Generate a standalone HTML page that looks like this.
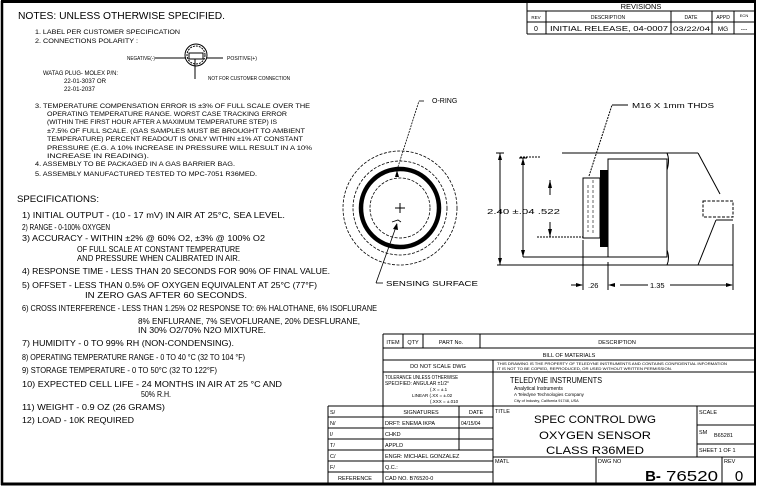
<!DOCTYPE html>
<html><head><meta charset="utf-8"><style>
html,body{margin:0;padding:0;background:#fff;}
svg{display:block;font-family:"Liberation Sans",sans-serif;}
text{fill:#000;}
</style></head><body>
<svg width="759" height="486" viewBox="0 0 759 486" xmlns="http://www.w3.org/2000/svg">
<rect x="0" y="0" width="759" height="486" fill="#fff"/>
<!-- border -->
<g stroke="#000" fill="none">
<line x1="1" y1="1.5" x2="756" y2="1.5" stroke-width="3"/>
<line x1="2" y1="1" x2="2" y2="485" stroke-width="2.5"/>
<line x1="1" y1="484" x2="756" y2="484" stroke-width="3"/>
<line x1="755" y1="1" x2="755" y2="485" stroke-width="2"/>
</g>

<!-- NOTES -->
<text x="18" y="19" font-size="10" textLength="207" lengthAdjust="spacingAndGlyphs">NOTES: UNLESS OTHERWISE SPECIFIED.</text>
<g font-size="6">
<text x="35" y="34" textLength="145" lengthAdjust="spacingAndGlyphs">1. LABEL PER CUSTOMER SPECIFICATION</text>
<text x="35" y="43" textLength="103" lengthAdjust="spacingAndGlyphs">2. CONNECTIONS POLARITY :</text>
<text x="127" y="60" font-size="5" textLength="28" lengthAdjust="spacingAndGlyphs">NEGATIVE(-)</text>
<text x="227" y="60" font-size="5" textLength="30" lengthAdjust="spacingAndGlyphs">POSITIVE(+)</text>
<text x="208" y="80" font-size="5" textLength="82" lengthAdjust="spacingAndGlyphs">NOT FOR CUSTOMER CONNECTION</text>
<text x="43" y="75" textLength="75" lengthAdjust="spacingAndGlyphs">WATAG PLUG- MOLEX P/N:</text>
<text x="64" y="83" textLength="42" lengthAdjust="spacingAndGlyphs">22-01-3037 OR</text>
<text x="64" y="91" textLength="31" lengthAdjust="spacingAndGlyphs">22-01-2037</text>
<text x="35" y="108" textLength="275" lengthAdjust="spacingAndGlyphs">3. TEMPERATURE COMPENSATION ERROR IS ±3% OF FULL SCALE OVER THE</text>
<text x="47" y="116" textLength="240" lengthAdjust="spacingAndGlyphs">OPERATING TEMPERATURE RANGE. WORST CASE TRACKING ERROR</text>
<text x="47" y="124" textLength="230" lengthAdjust="spacingAndGlyphs">(WITHIN THE FIRST HOUR AFTER A MAXIMUM TEMPERATURE STEP) IS</text>
<text x="47" y="133" textLength="258" lengthAdjust="spacingAndGlyphs">±7.5% OF FULL SCALE. (GAS SAMPLES MUST BE BROUGHT TO AMBIENT</text>
<text x="47" y="141" textLength="256" lengthAdjust="spacingAndGlyphs">TEMPERATURE) PERCENT READOUT IS ONLY WITHIN ±1% AT CONSTANT</text>
<text x="47" y="150" textLength="265" lengthAdjust="spacingAndGlyphs">PRESSURE (E.G. A 10% INCREASE IN PRESSURE WILL RESULT IN A 10%</text>
<text x="47" y="158" textLength="102" lengthAdjust="spacingAndGlyphs">INCREASE IN READING).</text>
<text x="35" y="166" textLength="200" lengthAdjust="spacingAndGlyphs">4. ASSEMBLY TO BE PACKAGED IN A GAS BARRIER BAG.</text>
<text x="35" y="176" textLength="222" lengthAdjust="spacingAndGlyphs">5. ASSEMBLY MANUFACTURED TESTED TO MPC-7051 R36MED.</text>
</g>
<!-- polarity symbol -->
<g stroke="#000" fill="none" stroke-width="1">
<line x1="155" y1="58" x2="186" y2="58"/>
<line x1="207" y1="58" x2="223" y2="58"/>
<circle cx="196" cy="55" r="11"/>
<circle cx="196" cy="55" r="9" stroke-dasharray="2 1"/>
<rect x="189" y="53" width="14" height="6"/>
<line x1="195" y1="59" x2="195" y2="79"/>
</g>

<!-- SPECIFICATIONS -->
<text x="17" y="202" font-size="9.5" textLength="82" lengthAdjust="spacingAndGlyphs">SPECIFICATIONS:</text>
<g font-size="8">
<text x="22" y="218" textLength="263" lengthAdjust="spacingAndGlyphs">1) INITIAL OUTPUT - (10 - 17 mV) IN AIR AT 25°C, SEA LEVEL.</text>
<text x="22" y="230" textLength="88" lengthAdjust="spacingAndGlyphs">2) RANGE - 0-100% OXYGEN</text>
<text x="22" y="241" textLength="243" lengthAdjust="spacingAndGlyphs">3) ACCURACY - WITHIN ±2% @ 60% O2, ±3% @ 100% O2</text>
<text x="77" y="252" textLength="163" lengthAdjust="spacingAndGlyphs">OF FULL SCALE AT CONSTANT TEMPERATURE</text>
<text x="77" y="261" textLength="163" lengthAdjust="spacingAndGlyphs">AND PRESSURE WHEN CALIBRATED IN AIR.</text>
<text x="22" y="274" textLength="308" lengthAdjust="spacingAndGlyphs">4) RESPONSE TIME - LESS THAN 20 SECONDS FOR 90% OF FINAL VALUE.</text>
<text x="22" y="288" textLength="295" lengthAdjust="spacingAndGlyphs">5) OFFSET - LESS THAN 0.5% OF OXYGEN EQUIVALENT AT 25°C (77°F)</text>
<text x="85" y="298" textLength="162" lengthAdjust="spacingAndGlyphs">IN ZERO GAS AFTER 60 SECONDS.</text>
<text x="22" y="311" textLength="355" lengthAdjust="spacingAndGlyphs">6) CROSS INTERFERENCE - LESS THAN 1.25% O2 RESPONSE TO: 6% HALOTHANE, 6% ISOFLURANE</text>
<text x="138" y="324" textLength="222" lengthAdjust="spacingAndGlyphs">8% ENFLURANE, 7% SEVOFLURANE, 20% DESFLURANE,</text>
<text x="138" y="333" textLength="128" lengthAdjust="spacingAndGlyphs">IN 30% O2/70% N2O MIXTURE.</text>
<text x="22" y="346" textLength="212" lengthAdjust="spacingAndGlyphs">7) HUMIDITY - 0 TO 99% RH (NON-CONDENSING).</text>
<text x="22" y="360" textLength="223" lengthAdjust="spacingAndGlyphs">8) OPERATING TEMPERATURE RANGE - 0 TO 40 °C (32 TO 104 °F)</text>
<text x="22" y="373" textLength="195" lengthAdjust="spacingAndGlyphs">9) STORAGE TEMPERATURE - 0 TO 50°C (32 TO 122°F)</text>
<text x="22" y="387" textLength="260" lengthAdjust="spacingAndGlyphs">10) EXPECTED CELL LIFE - 24 MONTHS IN AIR AT 25 °C AND</text>
<text x="141" y="397" textLength="30" lengthAdjust="spacingAndGlyphs">50% R.H.</text>
<text x="22" y="410" textLength="143" lengthAdjust="spacingAndGlyphs">11) WEIGHT - 0.9 OZ (26 GRAMS)</text>
<text x="22" y="423" textLength="112" lengthAdjust="spacingAndGlyphs">12) LOAD - 10K REQUIRED</text>
</g>

<!-- REVISIONS table -->
<g stroke="#000" fill="none" stroke-width="1">
<line x1="527" y1="1" x2="527" y2="34"/>
<line x1="527" y1="11" x2="755" y2="11"/>
<line x1="527" y1="22" x2="755" y2="22"/>
<line x1="527" y1="34" x2="755" y2="34"/>
<line x1="546" y1="11" x2="546" y2="34"/>
<line x1="671" y1="11" x2="671" y2="34"/>
<line x1="712" y1="11" x2="712" y2="34"/>
<line x1="734" y1="11" x2="734" y2="34"/>
</g>
<g font-size="6">
<text x="641" y="9" font-size="7.5" text-anchor="middle">REVISIONS</text>
<text x="536" y="19" font-size="4.5" text-anchor="middle">REV</text>
<text x="608" y="19" font-size="5" text-anchor="middle">DESCRIPTION</text>
<text x="691" y="19" font-size="5" text-anchor="middle">DATE</text>
<text x="723" y="19" font-size="5" text-anchor="middle">APPD</text>
<text x="744" y="17" font-size="4" text-anchor="middle">ECN</text>
<text x="536" y="31" font-size="7" text-anchor="middle">0</text>
<text x="550" y="31" font-size="7" textLength="118" lengthAdjust="spacingAndGlyphs">INITIAL RELEASE, 04-0007</text>
<text x="673" y="31" font-size="6.5" textLength="37" lengthAdjust="spacingAndGlyphs">03/22/04</text>
<text x="723" y="31" font-size="6.5" text-anchor="middle">MG</text>
<text x="744" y="31" font-size="6.5" text-anchor="middle">---</text>
</g>

<!-- Front view circle -->
<g stroke="#000" fill="none">
<circle cx="400" cy="208" r="57" stroke-dasharray="3 1.5" stroke-width="0.8"/>
<circle cx="400" cy="208" r="47" stroke-dasharray="3 1.5" stroke-width="0.8"/>
<circle cx="400" cy="208" r="39" stroke-width="4.5"/>
<circle cx="400" cy="208" r="30" stroke-dasharray="3 1.5" stroke-width="0.8"/>
<line x1="395" y1="208" x2="405" y2="208" stroke-width="1"/>
<line x1="400" y1="203" x2="400" y2="213" stroke-width="1"/>
<path d="M392 222 l6 -2 l3 2" stroke-width="0.8"/>
<line x1="397" y1="170" x2="419" y2="101" stroke-width="0.8" stroke-dasharray="2 1"/>
<line x1="419" y1="101" x2="424" y2="101" stroke-width="0.8"/>
<line x1="397" y1="224" x2="376" y2="283" stroke-width="0.8"/>
<line x1="376" y1="283" x2="383" y2="283" stroke-width="0.8"/>
</g>
<polygon points="397,170 395,177 399,177" fill="#000"/>
<polygon points="397,223 393,229 398,230" fill="#000"/>
<text x="432" y="103" font-size="7">O-RING</text>
<text x="386" y="286" font-size="7" textLength="92" lengthAdjust="spacingAndGlyphs">SENSING SURFACE</text>

<!-- Side view -->
<g stroke="#000" fill="none" stroke-width="1">
<line x1="562" y1="153" x2="673" y2="153"/>
<line x1="497" y1="265" x2="733" y2="265"/>
<line x1="520" y1="157" x2="540" y2="157" stroke-dasharray="2 1"/>
<line x1="537" y1="237" x2="583" y2="237" stroke-dasharray="2 1"/>
<line x1="500" y1="153" x2="500" y2="265"/>
<line x1="496" y1="153" x2="504" y2="153"/>
<line x1="523" y1="158" x2="523" y2="257"/>
<line x1="519" y1="158" x2="527" y2="158"/>
<line x1="523" y1="257" x2="608" y2="257"/>
<line x1="550" y1="180" x2="550" y2="195"/>
<line x1="550" y1="222" x2="550" y2="237"/>
<rect x="583" y="178" width="17" height="60"/>
<line x1="588" y1="185" x2="588" y2="232" stroke-dasharray="3 2" stroke-width="0.6"/>
<line x1="593" y1="180" x2="593" y2="235" stroke-dasharray="3 2" stroke-width="0.6"/>
<rect x="608" y="159" width="59" height="98"/>
<path d="M667 153 Q670 160 667 170 L667 250 Q670 258 667 265"/>
<line x1="673" y1="153" x2="698" y2="153"/>
<line x1="698" y1="153" x2="720" y2="194"/>
<line x1="698" y1="265" x2="716" y2="220"/>
<line x1="716" y1="220" x2="733" y2="220"/>
<rect x="703" y="201" width="30" height="16" stroke-dasharray="3 1.5"/>
<line x1="733" y1="224" x2="733" y2="290"/>
<line x1="583" y1="240" x2="583" y2="290"/>
<line x1="608" y1="262" x2="608" y2="290"/>
<line x1="571" y1="285" x2="582" y2="285"/>
<line x1="620" y1="285" x2="648" y2="285"/>
<line x1="670" y1="285" x2="732" y2="285"/>
<line x1="589" y1="176" x2="612" y2="105" stroke-dasharray="2 1"/>
<line x1="612" y1="105" x2="628" y2="105"/>
</g>
<rect x="600" y="170" width="8" height="77" fill="#000"/>
<polygon points="500,153 498,160 502,160" fill="#000"/>
<polygon points="500,265 498,258 502,258" fill="#000"/>
<polygon points="523,158 521,165 525,165" fill="#000"/>
<polygon points="523,257 521,250 525,250" fill="#000"/>
<polygon points="550,180 548,188 552,188" fill="#000"/>
<polygon points="550,237 548,229 552,229" fill="#000"/>
<polygon points="583,285 576,283 576,287" fill="#000"/>
<polygon points="608,285 615,283 615,287" fill="#000"/>
<polygon points="733,285 726,283 726,287" fill="#000"/>
<text x="487" y="214" font-size="7.5" textLength="73" lengthAdjust="spacingAndGlyphs">2.40 ±.04 .522</text>
<text x="588" y="288" font-size="7.5">.26</text>
<text x="650" y="288" font-size="7.5">1.35</text>
<text x="632" y="108" font-size="7" textLength="82" lengthAdjust="spacingAndGlyphs">M16 X 1mm THDS</text>

<!-- Title block -->
<g stroke="#000" fill="none" stroke-width="1">
<line x1="383" y1="334" x2="755" y2="334"/>
<line x1="383" y1="334" x2="383" y2="484"/>
<line x1="383" y1="348" x2="755" y2="348"/>
<line x1="383" y1="360" x2="755" y2="360"/>
<line x1="383" y1="372" x2="755" y2="372"/>
<line x1="403" y1="334" x2="403" y2="348"/>
<line x1="423" y1="334" x2="423" y2="348"/>
<line x1="480" y1="334" x2="480" y2="348"/>
<line x1="493" y1="360" x2="493" y2="484"/>
<line x1="328" y1="406" x2="755" y2="406"/>
<line x1="328" y1="406" x2="328" y2="484"/>
<line x1="328" y1="417" x2="493" y2="417"/>
<line x1="328" y1="428" x2="493" y2="428"/>
<line x1="328" y1="439" x2="493" y2="439"/>
<line x1="328" y1="450" x2="493" y2="450"/>
<line x1="328" y1="461" x2="493" y2="461"/>
<line x1="328" y1="472" x2="493" y2="472"/>
<line x1="459" y1="406" x2="459" y2="450"/>
<line x1="697" y1="406" x2="697" y2="457"/>
<line x1="697" y1="425" x2="755" y2="425"/>
<line x1="697" y1="444" x2="755" y2="444"/>
<line x1="493" y1="457" x2="755" y2="457"/>
<line x1="596" y1="457" x2="596" y2="484"/>
<line x1="722" y1="457" x2="722" y2="484"/>
</g>
<g font-size="5.5">
<text x="393" y="344" text-anchor="middle">ITEM</text>
<text x="413" y="344" text-anchor="middle">QTY</text>
<text x="451" y="344" text-anchor="middle">PART No.</text>
<text x="617" y="344" text-anchor="middle">DESCRIPTION</text>
<text x="569" y="357" text-anchor="middle">BILL OF MATERIALS</text>
<text x="438" y="368" text-anchor="middle">DO NOT SCALE DWG</text>
<text x="497" y="365" font-size="3.6" textLength="230" lengthAdjust="spacingAndGlyphs">THIS DRAWING IS THE PROPERTY OF TELEDYNE INSTRUMENTS AND CONTAINS CONFIDENTIAL INFORMATION</text>
<text x="497" y="370" font-size="3.6" textLength="175" lengthAdjust="spacingAndGlyphs">IT IS NOT TO BE COPIED, REPRODUCED, OR USED WITHOUT WRITTEN PERMISSION.</text>
<text x="385" y="379" font-size="5" textLength="73" lengthAdjust="spacingAndGlyphs">TOLERANCE UNLESS OTHERWISE</text>
<text x="385" y="385" font-size="5" textLength="64" lengthAdjust="spacingAndGlyphs">SPECIFIED: ANGULAR ±1/2°</text>
<text x="430" y="391" font-size="4.5">(.X    = ±.1</text>
<text x="412" y="397" font-size="4.5">LINEAR  (.XX   = ±.02</text>
<text x="430" y="403" font-size="4.5">(.XXX  = ±.010</text>
<text x="510" y="383" font-size="8" textLength="92" lengthAdjust="spacingAndGlyphs">TELEDYNE INSTRUMENTS</text>
<text x="514" y="390" font-size="5">Analytical Instruments</text>
<text x="514" y="396" font-size="4.5">A Teledyne Technologies Company</text>
<text x="514" y="402" font-size="3.8">City of Industry, California 91748, USA</text>
<text x="330" y="414">S/</text>
<text x="330" y="425">N/</text>
<text x="330" y="436">I/</text>
<text x="330" y="447">T/</text>
<text x="330" y="458">C/</text>
<text x="330" y="469">F/</text>
<text x="355" y="480" text-anchor="middle">REFERENCE</text>
<text x="421" y="414" text-anchor="middle">SIGNATURES</text>
<text x="476" y="414" text-anchor="middle">DATE</text>
<text x="385" y="425">DRFT: ENEMA IKPA</text>
<text x="461" y="425" font-size="5">04/15/04</text>
<text x="385" y="436">CHKD</text>
<text x="385" y="447">APPLD</text>
<text x="385" y="458">ENGR:   MICHAEL GONZALEZ</text>
<text x="385" y="469">Q.C.:</text>
<text x="385" y="480">CAD NO. B76520-0</text>
<text x="495" y="413">TITLE</text>
<text x="595" y="423" font-size="11" text-anchor="middle" textLength="122" lengthAdjust="spacingAndGlyphs">SPEC CONTROL DWG</text>
<text x="595" y="439" font-size="11" text-anchor="middle" textLength="112" lengthAdjust="spacingAndGlyphs">OXYGEN SENSOR</text>
<text x="595" y="454" font-size="11" text-anchor="middle" textLength="98" lengthAdjust="spacingAndGlyphs">CLASS R36MED</text>
<text x="699" y="414">SCALE</text>
<text x="699" y="434">SM</text>
<text x="714" y="437">B65281</text>
<text x="699" y="452">SHEET  1  OF  1</text>
<text x="495" y="463">MATL</text>
<text x="598" y="463">DWG NO</text>
<text x="724" y="463">REV</text>
<text x="653" y="481" font-size="15" text-anchor="middle" font-weight="bold">B-</text>
<text x="666" y="481" font-size="15" textLength="52" lengthAdjust="spacingAndGlyphs">76520</text>
<text x="739" y="481" font-size="15" text-anchor="middle">0</text>
</g>
</svg>
</body></html>
